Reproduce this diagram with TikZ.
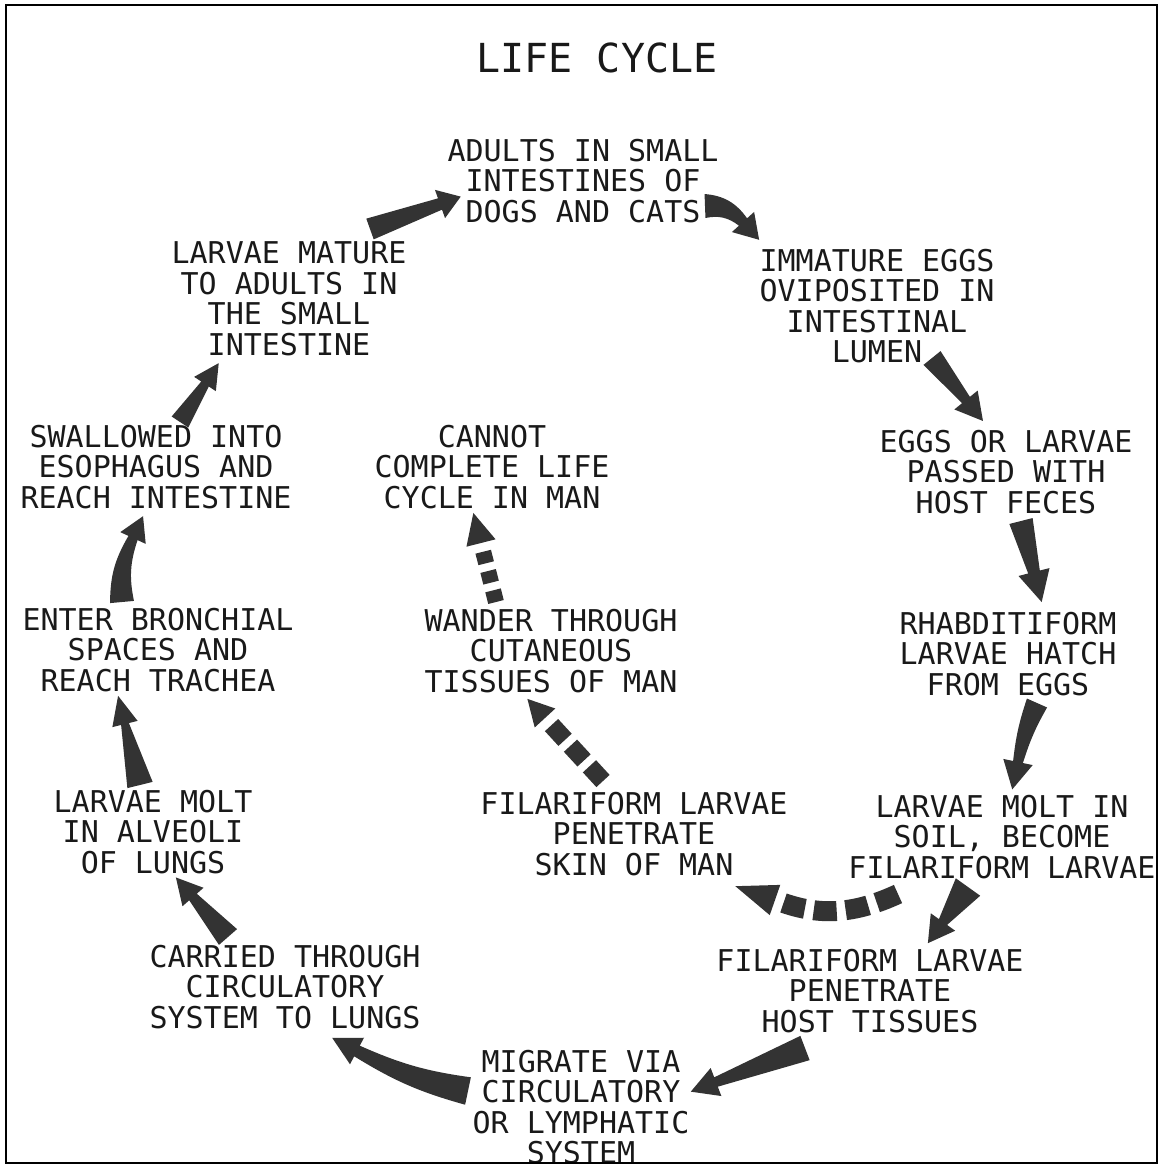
\documentclass[tikz,border=0pt]{standalone}
\usepackage{fontspec}
\newfontfamily\refont{DejaVu Sans Mono}
\usetikzlibrary{calc}
\definecolor{arrowcol}{gray}{0.2}
\tikzset{
  lab/.style={font={\refont\fontsize{30}{30.5}\selectfont}, align=center, inner sep=0pt, text=black!90},
  ttl/.style={font={\refont\fontsize{40}{42}\selectfont}, inner sep=0pt, text=black!90}
}
% #1 tail, #2 neck, #3 bend (left), #4 tail width, #5 neck width, #6 head width, #7 head length
\newcommand{\fatarrow}[7]{%
\fill[arrowcol] let \p1=(#1), \p2=(#2), \n1={atan2(\y2-\y1,\x2-\x1)}, \n2={\n1+#3}, \n3={\n1-#3} in
 ({\x1+0.5*#4*cos(\n2+90)},{\y1+0.5*#4*sin(\n2+90)}) to[bend left=#3]
 ({\x2+0.5*#5*cos(\n3+90)},{\y2+0.5*#5*sin(\n3+90)}) --
 ({\x2+0.5*#6*cos(\n3+90)},{\y2+0.5*#6*sin(\n3+90)}) --
 ({\x2+#7*cos(\n3)},{\y2+#7*sin(\n3)}) --
 ({\x2+0.5*#6*cos(\n3-90)},{\y2+0.5*#6*sin(\n3-90)}) --
 ({\x2+0.5*#5*cos(\n3-90)},{\y2+0.5*#5*sin(\n3-90)}) to[bend right=#3]
 ({\x1+0.5*#4*cos(\n2-90)},{\y1+0.5*#4*sin(\n2-90)}) -- cycle;}
% #1 tail, #2 neck, #3 bend, #4 line width, #5 head width, #6 head length, #7 dash on, #8 dash off
\newcommand{\dasharrow}[8]{%
\draw[arrowcol, line width=#4pt, dash pattern=on #7pt off #8pt, shorten >=9pt] (#1) to[bend left=#3] (#2);
\fill[arrowcol] let \p1=(#1), \p2=(#2), \n1={atan2(\y2-\y1,\x2-\x1)}, \n3={\n1-#3} in
 ({\x2+0.5*#5*cos(\n3+90)},{\y2+0.5*#5*sin(\n3+90)}) --
 ({\x2+#6*cos(\n3)},{\y2+#6*sin(\n3)}) --
 ({\x2+0.5*#5*cos(\n3-90)},{\y2+0.5*#5*sin(\n3-90)}) -- cycle;}
\begin{document}
\begin{tikzpicture}[x=1pt,y=-1pt]
\useasboundingbox (0,0) rectangle (1159,1165);
\fill[white] (0,0) rectangle (1159,1165);

\node[ttl] (t) at (597,58) {LIFE CYCLE};
\node[lab] (n1) at (583,181) {ADULTS IN SMALL\\INTESTINES OF\\DOGS AND CATS};
\node[lab] (n2) at (877,306) {IMMATURE EGGS\\OVIPOSITED IN\\INTESTINAL\\LUMEN};
\node[lab] (n3) at (1006,472) {EGGS OR LARVAE\\PASSED WITH\\HOST FECES};
\node[lab] (n4) at (1008,654) {RHABDITIFORM\\LARVAE HATCH\\FROM EGGS};
\node[lab] (n5) at (1002,837) {LARVAE MOLT IN\\SOIL, BECOME\\FILARIFORM LARVAE};
\node[lab] (n6) at (870,991) {FILARIFORM LARVAE\\PENETRATE\\HOST TISSUES};
\node[lab] (n7) at (581,1107) {MIGRATE VIA\\CIRCULATORY\\OR LYMPHATIC\\SYSTEM};
\node[lab] (n8) at (285,987) {CARRIED THROUGH\\CIRCULATORY\\SYSTEM TO LUNGS};
\node[lab] (n9) at (153,832) {LARVAE MOLT\\IN ALVEOLI\\OF LUNGS};
\node[lab] (n10) at (158,650) {ENTER BRONCHIAL\\SPACES AND\\REACH TRACHEA};
\node[lab] (n11) at (156,467) {SWALLOWED INTO\\ESOPHAGUS AND\\REACH INTESTINE};
\node[lab] (n12) at (289,299) {LARVAE MATURE\\TO ADULTS IN\\THE SMALL\\INTESTINE};
\node[lab] (n13) at (492,467) {CANNOT\\COMPLETE LIFE\\CYCLE IN MAN};
\node[lab] (n14) at (551,651) {WANDER THROUGH\\CUTANEOUS\\TISSUES OF MAN};
\node[lab] (n15) at (634,834) {FILARIFORM LARVAE\\PENETRATE\\SKIN OF MAN};

% main cycle
\fatarrow{370,229}{440,204}{0}{22}{12}{30}{22}
\fatarrow{705,206}{743,222}{25}{24}{11}{30}{24}
\fatarrow{932,358}{966,400}{0}{22}{10}{30}{27}
\fatarrow{1021,521}{1034,572}{0}{24}{12}{32}{31}
\fatarrow{1037,703}{1018,762}{-6}{22}{10}{30}{28}
\fatarrow{968,887}{943,922}{0}{30}{10}{30}{26}
\fatarrow{805,1048}{716,1082}{0}{26}{10}{30}{27}
\fatarrow{468,1091}{357,1051}{8}{28}{12}{30}{28}
\fatarrow{228,937}{193,897}{0}{24}{10}{28}{26}
\fatarrow{140,785}{125,724}{0}{26}{8}{26}{29}
\fatarrow{122,602}{133,538}{15}{24}{10}{28}{24}
\fatarrow{180,422}{205,384}{0}{20}{9}{26}{25}

% dashed branch
\dasharrow{898,894}{775,900}{22}{20}{32}{42}{23}{9}
\dasharrow{603,781}{545,718}{0}{18}{28}{26}{20}{8}
\dasharrow{496,602}{481,543}{0}{16}{30}{31}{12}{8}

\draw[line width=2.5pt] (6,5) rectangle (1157,1163);
\end{tikzpicture}
\end{document}
